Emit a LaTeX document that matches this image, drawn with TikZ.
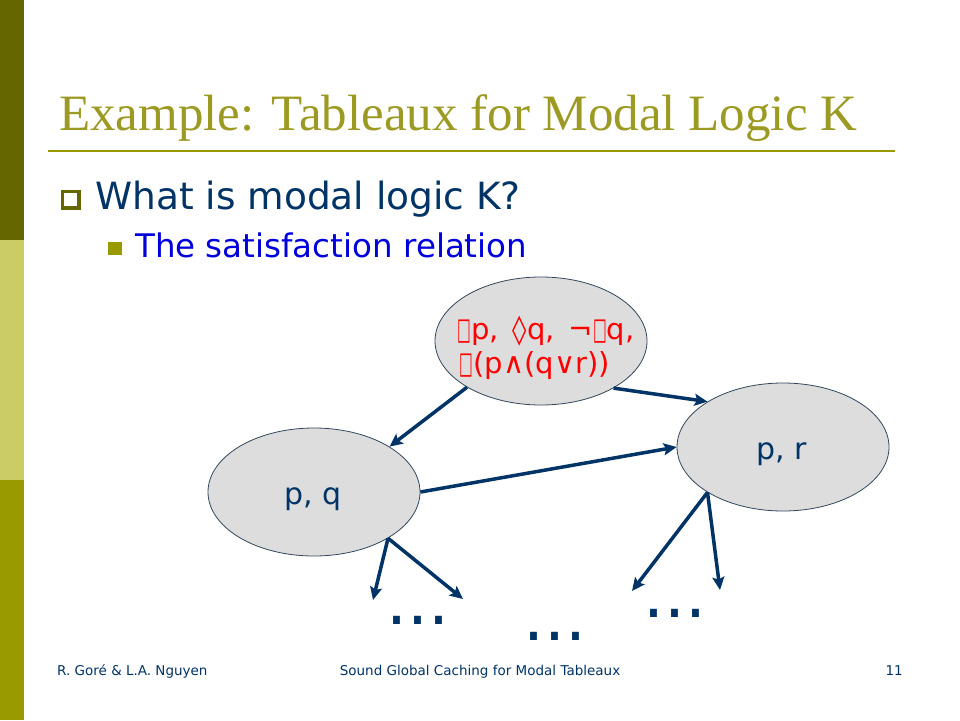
\documentclass[tikz,border=0pt]{standalone}
\usepackage{fontspec}
\usepackage{graphicx}
\setmainfont{Liberation Serif}
\newfontfamily\dv{DejaVu Sans}
\usetikzlibrary{arrows.meta,shapes.geometric}
\definecolor{navy}{HTML}{003366}
\definecolor{olive}{HTML}{999900}
\definecolor{titleolive}{HTML}{9C9A22}
\definecolor{darkolive}{HTML}{666600}
\definecolor{lightolive}{HTML}{CCCC66}
\definecolor{ellfill}{HTML}{DDDDDD}
\definecolor{ellline}{HTML}{33475C}
\definecolor{subblue}{HTML}{0000DD}
\newcommand{\bx}{\scalebox{0.5}[1.05]{□}}
\begin{document}
\begin{tikzpicture}[x=1pt,y=-1pt,
  ell/.style={ellipse, draw=ellline, line width=0.8pt, fill=ellfill,
    minimum width=212pt, minimum height=128pt, inner sep=0pt},
  lbl/.style={inner sep=0pt, anchor=base, font=\dv\fontsize{30}{30}\selectfont, text=navy},
  redlbl/.style={inner sep=0pt, anchor=base, font=\dv\fontsize{29}{29}\selectfont, text=red},
  arr/.style={draw=navy, line width=3.5pt, -{Stealth[length=13pt,width=12pt,inset=2.5pt]}},
  dots/.style={inner sep=0pt, anchor=base, font=\dv\fontsize{66}{66}\selectfont, text=navy},
  foot/.style={inner sep=0pt, anchor=base, font=\dv\fontsize{13.5}{13.5}\selectfont, text=navy}]
\useasboundingbox (0,0) rectangle (960,720);
\fill[white] (0,0) rectangle (960,720);
% left bar
\fill[darkolive] (0,0) rectangle (24,240);
\fill[lightolive] (0,240) rectangle (24,480);
\fill[olive] (0,480) rectangle (24,720);
% title
\node[anchor=base west, inner sep=0pt, font=\fontsize{51}{51}\selectfont, text=titleolive] (title) at (59,130) {Example: Tableaux for Modal Logic K};
\draw[olive, line width=2.5pt] (48,151) -- (895,151);
% bullets
\node[draw=darkolive, line width=3.5pt, minimum size=16.5pt, inner sep=0pt] (b1) at (70.5,199.5) {};
\node[anchor=base west, inner sep=0pt, font=\dv\fontsize{37.5}{37.5}\selectfont, text=navy] (t1) at (95,209) {What is modal logic K?};
\node[fill=olive, minimum width=14pt, minimum height=13pt, inner sep=0pt] (b2) at (115,248.5) {};
\node[anchor=base west, inner sep=0pt, font=\dv\fontsize{32.5}{32.5}\selectfont, text=subblue] (t2) at (135,257) {The satisfaction relation};
% ellipses
\node[ell] (top) at (541,341) {};
\node[ell] (pq) at (314,492) {};
\node[ell] (pr) at (783,447) {};
\node[redlbl] (topa) at (546,339) {\bx p,\, ◊q,\, ¬\bx q,};
\node[redlbl] (topb) at (535,373) {\bx(p∧(q∨r))};
\node[lbl] (pqt) at (313,504) {p, q};
\node[lbl] (prt) at (782,459) {p, r};
% free ends
\coordinate (c1) at (373,600);
\coordinate (c2) at (463,599);
\coordinate (c3) at (632,591);
\coordinate (c4) at (720,590);
% arrows
\draw[arr] (top.212) -- (pq.31);
\draw[arr] (top.327) -- (pr.149);
\draw[arr] (pq.east) -- (pr.west);
\draw[arr] (pq.328) -- (c1);
\draw[arr] (pq.328) -- (c2);
\draw[arr] (pr.211) -- (c3);
\draw[arr] (pr.211) -- (c4);
% dots
\node[dots] (d1) at (418,624) {...};
\node[dots] (d2) at (555,640) {...};
\node[dots] (d3) at (675,617) {...};
% footer
\node[foot, anchor=base west] (f1) at (57,675) {R. Goré \& L.A. Nguyen};
\node[foot] (f2) at (480,675) {Sound Global Caching for Modal Tableaux};
\node[foot, anchor=base east] (f3) at (903,675) {11};
\end{tikzpicture}
\end{document}
